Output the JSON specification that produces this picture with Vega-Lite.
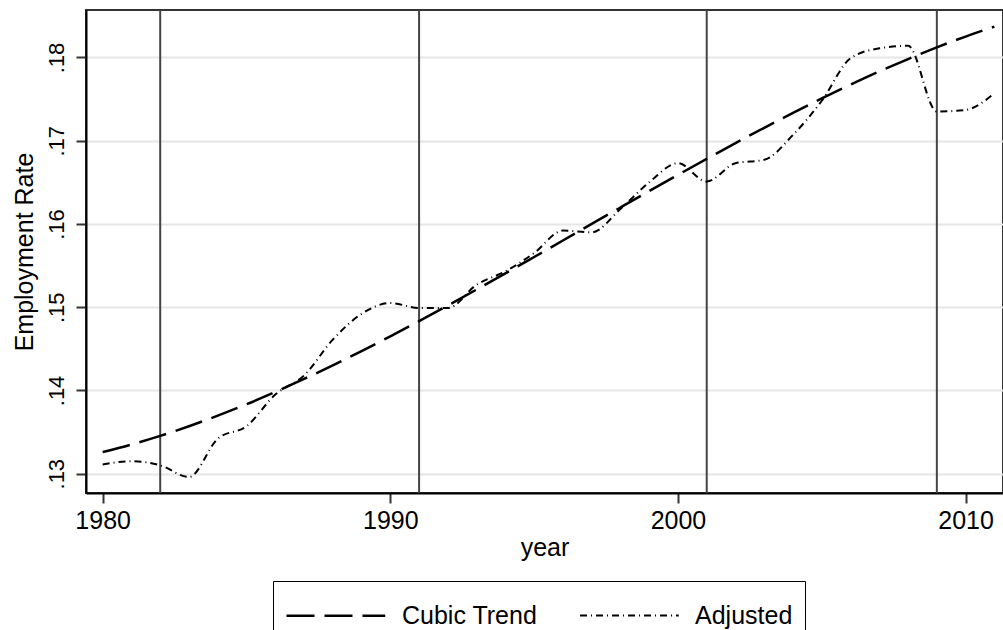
{
  "$schema": "https://vega.github.io/schema/vega-lite/v6.json",
  "width": 917,
  "height": 483,
  "autosize": {"type": "none"},
  "padding": {"left": 86, "top": 10, "right": 0, "bottom": 137},
  "background": "white",
  "config": {
    "view": {"stroke": "#333333", "strokeWidth": 2},
    "font": "Liberation Sans",
    "axis": {"labelFont": "Liberation Sans", "titleFont": "Liberation Sans", "labelColor": "black", "titleColor": "black", "titleFontWeight": "normal"}
  },
  "datasets": {
    "recessions": [{"year": 1982}, {"year": 1991}, {"year": 2001}, {"year": 2009}],
    "series": [
      {"year": 1980, "series": "Cubic Trend", "value": 0.13260},
      {"year": 1981, "series": "Cubic Trend", "value": 0.13351},
      {"year": 1982, "series": "Cubic Trend", "value": 0.13454},
      {"year": 1983, "series": "Cubic Trend", "value": 0.13570},
      {"year": 1984, "series": "Cubic Trend", "value": 0.13697},
      {"year": 1985, "series": "Cubic Trend", "value": 0.13834},
      {"year": 1986, "series": "Cubic Trend", "value": 0.13982},
      {"year": 1987, "series": "Cubic Trend", "value": 0.14138},
      {"year": 1988, "series": "Cubic Trend", "value": 0.14302},
      {"year": 1989, "series": "Cubic Trend", "value": 0.14473},
      {"year": 1990, "series": "Cubic Trend", "value": 0.14650},
      {"year": 1991, "series": "Cubic Trend", "value": 0.14833},
      {"year": 1992, "series": "Cubic Trend", "value": 0.15021},
      {"year": 1993, "series": "Cubic Trend", "value": 0.15212},
      {"year": 1994, "series": "Cubic Trend", "value": 0.15406},
      {"year": 1995, "series": "Cubic Trend", "value": 0.15603},
      {"year": 1996, "series": "Cubic Trend", "value": 0.15801},
      {"year": 1997, "series": "Cubic Trend", "value": 0.16000},
      {"year": 1998, "series": "Cubic Trend", "value": 0.16198},
      {"year": 1999, "series": "Cubic Trend", "value": 0.16395},
      {"year": 2000, "series": "Cubic Trend", "value": 0.16590},
      {"year": 2001, "series": "Cubic Trend", "value": 0.16782},
      {"year": 2002, "series": "Cubic Trend", "value": 0.16971},
      {"year": 2003, "series": "Cubic Trend", "value": 0.17155},
      {"year": 2004, "series": "Cubic Trend", "value": 0.17334},
      {"year": 2005, "series": "Cubic Trend", "value": 0.17507},
      {"year": 2006, "series": "Cubic Trend", "value": 0.17673},
      {"year": 2007, "series": "Cubic Trend", "value": 0.17832},
      {"year": 2008, "series": "Cubic Trend", "value": 0.17981},
      {"year": 2009, "series": "Cubic Trend", "value": 0.18122},
      {"year": 2010, "series": "Cubic Trend", "value": 0.18251},
      {"year": 2011, "series": "Cubic Trend", "value": 0.18370},
      {"year": 1980, "series": "Adjusted", "value": 0.1311},
      {"year": 1981, "series": "Adjusted", "value": 0.1315},
      {"year": 1982, "series": "Adjusted", "value": 0.1310},
      {"year": 1983, "series": "Adjusted", "value": 0.1296},
      {"year": 1984, "series": "Adjusted", "value": 0.1342},
      {"year": 1985, "series": "Adjusted", "value": 0.1357},
      {"year": 1986, "series": "Adjusted", "value": 0.1395},
      {"year": 1987, "series": "Adjusted", "value": 0.1418},
      {"year": 1988, "series": "Adjusted", "value": 0.1461},
      {"year": 1989, "series": "Adjusted", "value": 0.1492},
      {"year": 1990, "series": "Adjusted", "value": 0.1505},
      {"year": 1991, "series": "Adjusted", "value": 0.1499},
      {"year": 1992, "series": "Adjusted", "value": 0.1499},
      {"year": 1993, "series": "Adjusted", "value": 0.1527},
      {"year": 1994, "series": "Adjusted", "value": 0.1543},
      {"year": 1995, "series": "Adjusted", "value": 0.1565},
      {"year": 1996, "series": "Adjusted", "value": 0.1592},
      {"year": 1997, "series": "Adjusted", "value": 0.1590},
      {"year": 1998, "series": "Adjusted", "value": 0.1618},
      {"year": 1999, "series": "Adjusted", "value": 0.1650},
      {"year": 2000, "series": "Adjusted", "value": 0.1673},
      {"year": 2001, "series": "Adjusted", "value": 0.1651},
      {"year": 2002, "series": "Adjusted", "value": 0.1673},
      {"year": 2003, "series": "Adjusted", "value": 0.1677},
      {"year": 2004, "series": "Adjusted", "value": 0.1707},
      {"year": 2005, "series": "Adjusted", "value": 0.1748},
      {"year": 2006, "series": "Adjusted", "value": 0.1799},
      {"year": 2007, "series": "Adjusted", "value": 0.1811},
      {"year": 2008, "series": "Adjusted", "value": 0.1814},
      {"year": 2009, "series": "Adjusted", "value": 0.1735},
      {"year": 2010, "series": "Adjusted", "value": 0.1737},
      {"year": 2011, "series": "Adjusted", "value": 0.1757}
    ]
  },
  "encoding": {
    "x": {
      "field": "year",
      "type": "quantitative",
      "scale": {"domain": [1979.42, 2011.3], "nice": false, "zero": false},
      "axis": {
        "values": [1980, 1990, 2000, 2010],
        "format": "d",
        "grid": false,
        "title": "year",
        "domainColor": "black",
        "domainWidth": 2,
        "tickColor": "#333333",
        "tickWidth": 2,
        "tickSize": 10,
        "labelFontSize": 25,
        "labelPadding": 17,
        "labelBaseline": "middle",
        "titleFontSize": 25,
        "titleY": 62,
        "titleBaseline": "alphabetic"
      }
    }
  },
  "layer": [
    {
      "data": {"name": "recessions"},
      "mark": {"type": "rule", "color": "#444444", "strokeWidth": 2},
      "encoding": {}
    },
    {
      "data": {"name": "series"},
      "mark": {"type": "line", "color": "black", "interpolate": "monotone", "clip": true},
      "encoding": {
        "y": {
          "field": "value",
          "type": "quantitative",
          "scale": {"domain": [0.12768, 0.1857], "nice": false, "zero": false},
          "axis": {
            "values": [0.13, 0.14, 0.15, 0.16, 0.17, 0.18],
            "labelExpr": "replace(format(datum.value, '.2f'), /^0/, '')",
            "grid": true,
            "gridColor": "#e6e6e6",
            "gridWidth": 2,
            "title": "Employment Rate",
            "domainColor": "black",
            "domainWidth": 2,
            "tickColor": "#333333",
            "tickWidth": 2,
            "tickSize": 10,
            "labelFontSize": 22,
            "labelAngle": -90,
            "labelAlign": "center",
            "labelBaseline": "alphabetic",
            "labelPadding": 13,
            "titleFontSize": 25,
            "titleAngle": -90,
            "titleX": -54,
            "titleY": 241.5,
            "titleAlign": "center",
            "titleBaseline": "alphabetic"
          }
        },
        "strokeDash": {
          "field": "series",
          "type": "nominal",
          "scale": {"domain": ["Cubic Trend", "Adjusted"], "range": [[28, 10], [7, 4, 1, 4]]},
          "legend": {
            "orient": "none",
            "legendX": 187,
            "legendY": 571,
            "direction": "horizontal",
            "title": null,
            "strokeColor": "black",
            "padding": 12,
            "symbolType": "M-1,0H3.7",
            "symbolSize": 1764,
            "symbolStrokeColor": "black",
            "symbolStrokeWidth": 2.5,
            "labelFontSize": 25,
            "labelFont": "Liberation Sans",
            "labelColor": "black",
            "labelOffset": 72,
            "columnPadding": 38
          }
        },
        "strokeWidth": {
          "field": "series",
          "type": "nominal",
          "scale": {"domain": ["Cubic Trend", "Adjusted"], "range": [2.5, 2]},
          "legend": null
        }
      }
    }
  ]
}
